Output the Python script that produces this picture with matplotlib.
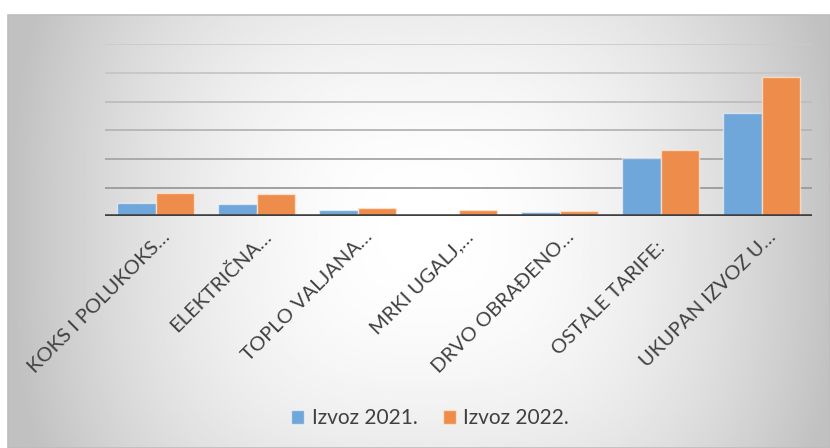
import numpy as np
import matplotlib
matplotlib.use("Agg")
import matplotlib.pyplot as plt
from matplotlib.transforms import ScaledTranslation
from matplotlib.patches import Rectangle

plt.rcParams['font.family'] = ['Lato', 'DejaVu Sans']

categories = ["KOKS I POLUKOKS\u2026", "ELEKTRIČNA\u2026", "TOPLO VALJANA\u2026",
              "MRKI UGALJ,\u2026", "DRVO OBRAĐENO\u2026", "OSTALE TARIFE:   ",
              "UKUPAN IZVOZ U\u2026"]
izvoz_2021 = [0.46, 0.45, 0.22, 0.0, 0.15, 2.04, 3.62]
izvoz_2022 = [0.82, 0.78, 0.29, 0.23, 0.18, 2.32, 4.87]
series_names = ["Izvoz 2021.", "Izvoz 2022."]

W, H = 830, 448
fig = plt.figure(figsize=(W / 100, H / 100), dpi=100)
fig.patch.set_facecolor('white')

# background gradient panel
bx0, by0 = 8, 15
bg = fig.add_axes([bx0 / W, 0, 1 - bx0 / W, 1 - by0 / H], zorder=-10)
xs = np.linspace(bx0, W, 400)
ys = np.linspace(by0, H, 220)
X, Y = np.meshgrid(xs, ys)
cx, cy, hx, hy = 425, 230, 415, 400
dx = np.abs(X - cx) / hx
dy = np.abs(Y - cy) / hy
t = np.clip((dx ** 3 + dy ** 3) ** (1 / 3), 0, 1)
val = 1 - 0.245 * t ** 1.9
bg.imshow(val, cmap='gray', vmin=0, vmax=1, aspect='auto',
          extent=[bx0, W, H, by0], interpolation='bilinear')
bg.set_axis_off()
fig.patches.append(Rectangle((bx0 / W, 0), 1 - bx0 / W, 1 - by0 / H - 0.001,
                             transform=fig.transFigure, fill=False,
                             edgecolor='#bdbdbd', linewidth=1.2))

ax = fig.add_axes([105 / W, 1 - 216.5 / H, (812 - 105) / W, (216.5 - 44.3) / H])
ax.set_facecolor('none')

x = np.arange(len(categories))
w = 0.38
b1 = ax.bar(x - w / 2, izvoz_2021, w, color='#70a7da',
            edgecolor=(1, 1, 1, 0.55), linewidth=1.0, zorder=2, label=series_names[0])
b2 = ax.bar(x + w / 2, izvoz_2022, w, color='#ee8c4b',
            edgecolor=(1, 0.92, 0.85, 0.7), linewidth=1.0, zorder=2, label=series_names[1])

ax.set_xlim(-0.5, len(categories) - 0.5)
ax.set_ylim(0, 6)
ax.set_yticks(range(0, 7))
ax.yaxis.grid(True, linewidth=1.3)
grid_colors = ['#9a9a9a', '#9a9a9a', '#a6a6a6', '#b5b5b5', '#bdbdbd', '#c6c6c6', '#cbcbcb']
for gl, c in zip(ax.get_ygridlines(), grid_colors):
    gl.set_color(c)
ax.set_axisbelow(True)
ax.tick_params(axis='y', length=0, labelleft=False)
for s in ax.spines.values():
    s.set_visible(False)
ax.axhline(0, color='#404040', linewidth=2.6, zorder=3)

ax.set_xticks(x, categories, rotation=45, ha='right', va='baseline',
              rotation_mode='anchor', fontsize=14.5, color='#404040')
ax.tick_params(axis='x', length=0, pad=0)
off = ScaledTranslation(16 / 100, -21.5 / 100, fig.dpi_scale_trans)
for lbl in ax.get_xticklabels():
    lbl.set_transform(lbl.get_transform() + off)

leg = ax.legend(handles=[b1, b2], loc='center', ncol=2,
                bbox_to_anchor=(430 / W, 1 - 418 / H), bbox_transform=fig.transFigure,
                frameon=False, fontsize=15, handlelength=0.65, handleheight=0.65,
                handletextpad=0.35, columnspacing=1.2, labelcolor='#404040')

fig.savefig('out.png', dpi=100)
